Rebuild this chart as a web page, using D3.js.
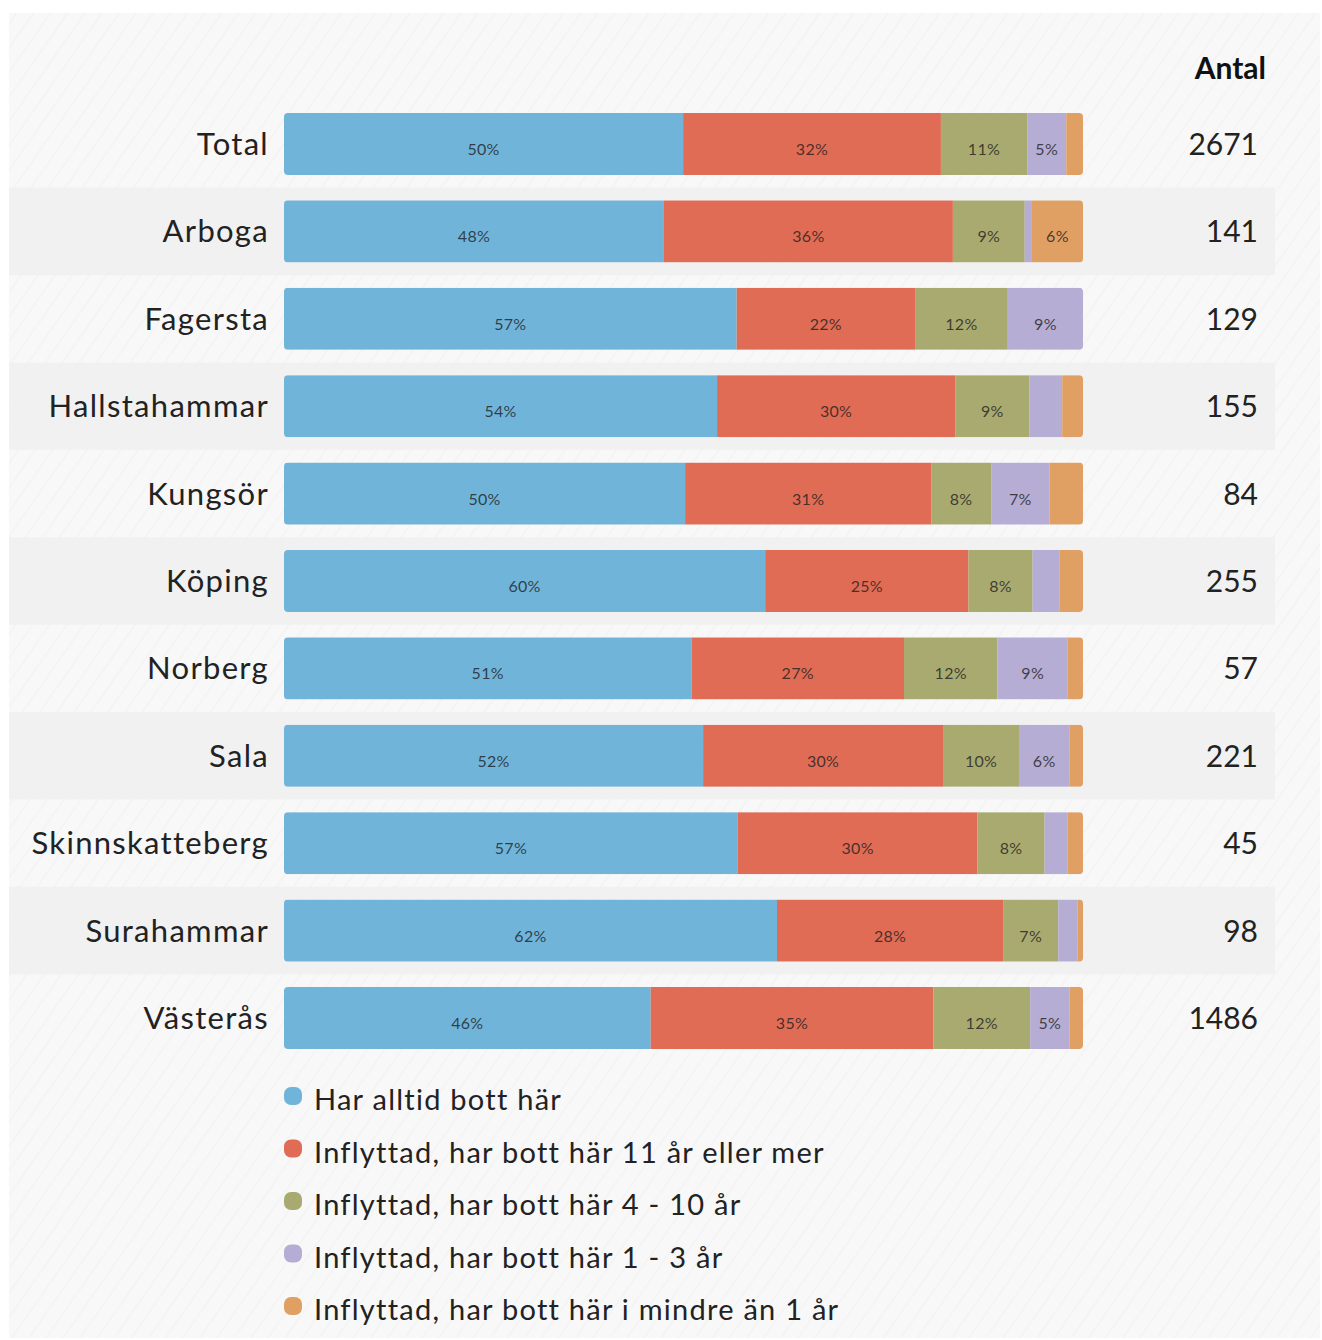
<!DOCTYPE html>
<html>
<head>
<meta charset="utf-8">
<script src="https://cdn.jsdelivr.net/npm/d3@7"></script>
<style>
  body { margin: 0; background: #fff; }
  svg { display: block; font-family: Lato, 'Open Sans', sans-serif; }
</style>
</head>
<body>
<div class="chart"></div>
<script>
// data (percent of each row)
const categories = ['Total', 'Arboga', 'Fagersta', 'Hallstahammar', 'Kungsör', 'Köping', 'Norberg', 'Sala', 'Skinnskatteberg', 'Surahammar', 'Västerås'];
const antal = [2671, 141, 129, 155, 84, 255, 57, 221, 45, 98, 1486];
const alltid   = [50.0, 47.6, 56.6, 54.2, 50.2, 60.1, 51.0, 52.4, 56.8, 61.7, 45.8];
const elvaPlus = [32.3, 36.2, 22.3, 29.8, 30.8, 25.4, 26.6, 30.0, 30.0, 28.3, 35.3];
const fyraTio  = [10.8, 9.0, 11.6, 9.3, 7.5, 8.0, 11.7, 9.5, 8.4, 6.9, 12.1];
const ettTre   = [4.9, 0.9, 9.4, 4.1, 7.3, 3.4, 8.8, 6.3, 2.9, 2.4, 4.9];
const underEtt = [2.1, 6.4, 0, 2.6, 4.2, 2.9, 1.9, 1.7, 1.9, 0.7, 1.7];

const seriesNames = ['Har alltid bott här', 'Inflyttad, har bott här 11 år eller mer', 'Inflyttad, har bott här 4 - 10 år', 'Inflyttad, har bott här 1 - 3 år', 'Inflyttad, har bott här i mindre än 1 år'];
const colors = ['#70b4da', '#e06c55', '#a9aa70', '#b5add4', '#e0a064'];
const keys = ['alltid', 'elvaPlus', 'fyraTio', 'ettTre', 'underEtt'];

const rows = categories.map((c, i) => ({
  name: c, antal: antal[i],
  alltid: alltid[i], elvaPlus: elvaPlus[i], fyraTio: fyraTio[i], ettTre: ettTre[i], underEtt: underEtt[i]
}));

const width = 1322, height = 1340;

const svg = d3.select('.chart').append('svg')
  .attr('width', width)
  .attr('height', height);

// faint diagonal texture on the panel
const defs = svg.append('defs');
const pat = defs.append('pattern')
  .attr('id', 'stripes')
  .attr('width', 14).attr('height', 14)
  .attr('patternUnits', 'userSpaceOnUse')
  .attr('patternTransform', 'rotate(-55)');
pat.append('rect').attr('width', 14).attr('height', 14).attr('fill', '#f8f8f8');
pat.append('line').attr('x1', 0).attr('x2', 14).attr('y1', 7).attr('y2', 7)
  .attr('stroke', '#f4f4f4').attr('stroke-width', 2);

svg.append('rect')
  .attr('x', 9).attr('y', 13)
  .attr('width', width - 11).attr('height', height - 15)
  .attr('fill', 'url(#stripes)');

const x = d3.scaleLinear().domain([0, 1]).range([284, 1083]);
const y = d3.scaleBand().domain(categories)
  .range([100.3, 1061.7])
  .paddingInner(0.29)
  .paddingOuter(0.145);
const step = y.step();

// alternating row bands
svg.append('g').selectAll('rect')
  .data(categories.filter((d, i) => i % 2 === 1))
  .join('rect')
  .attr('x', 9)
  .attr('y', d => y(d) + y.bandwidth() / 2 - step / 2)
  .attr('width', 1266)
  .attr('height', step)
  .attr('fill', '#efefef')
  .attr('opacity', 0.75);

// clip each bar to a rounded rectangle
defs.selectAll('clipPath')
  .data(categories)
  .join('clipPath')
  .attr('id', (d, i) => 'clip' + i)
  .append('rect')
  .attr('x', x(0))
  .attr('y', d => y(d))
  .attr('width', x(1) - x(0))
  .attr('height', y.bandwidth())
  .attr('rx', 4);

const stack = d3.stack().keys(keys).offset(d3.stackOffsetExpand);
const stacked = stack(rows);

const barRows = svg.append('g').selectAll('g')
  .data(rows)
  .join('g')
  .attr('clip-path', (d, i) => 'url(#clip' + i + ')');

barRows.selectAll('rect')
  .data((d, i) => stacked.map((s, k) => ({ k: k, v: d[keys[k]], y0: s[i][0], y1: s[i][1], name: d.name })))
  .join('rect')
  .attr('x', d => x(d.y0))
  .attr('y', d => y(d.name))
  .attr('width', d => x(d.y1) - x(d.y0))
  .attr('height', y.bandwidth())
  .attr('fill', d => colors[d.k]);

barRows.selectAll('text')
  .data((d, i) => stacked.map((s, k) => ({ k: k, v: d[keys[k]], y0: s[i][0], y1: s[i][1], name: d.name }))
    .filter(d => Math.round(d.v) >= 5))
  .join('text')
  .attr('x', d => (x(d.y0) + x(d.y1)) / 2)
  .attr('y', d => y(d.name) + y.bandwidth() / 2 + 11)
  .attr('text-anchor', 'middle')
  .attr('font-size', 16)
  .attr('letter-spacing', 0.3)
  .attr('fill', '#1e1e1e')
  .attr('fill-opacity', 0.8)
  .text(d => Math.round(d.v) + '%');

// category labels
svg.append('g').selectAll('text')
  .data(categories)
  .join('text')
  .attr('x', 269)
  .attr('y', d => y(d) + y.bandwidth() / 2 + 11)
  .attr('text-anchor', 'end')
  .attr('font-size', 31)
  .attr('letter-spacing', 1.3)
  .attr('fill', '#222')
  .text(d => d);

// Antal column
svg.append('text')
  .attr('x', 1266).attr('y', 79)
  .attr('text-anchor', 'end')
  .attr('font-size', 30)
  .attr('font-weight', 'bold')
  .attr('fill', '#111')
  .text('Antal');

svg.append('g').selectAll('text')
  .data(rows)
  .join('text')
  .attr('x', 1258)
  .attr('y', d => y(d.name) + y.bandwidth() / 2 + 11)
  .attr('text-anchor', 'end')
  .attr('font-size', 30)
  .attr('fill', '#222')
  .text(d => d.antal);

// legend
const legend = svg.append('g').selectAll('g')
  .data(seriesNames)
  .join('g')
  .attr('transform', (d, i) => 'translate(284,' + (1096 + i * 52.5) + ')');

legend.append('rect')
  .attr('x', 0).attr('y', -9)
  .attr('width', 18).attr('height', 18)
  .attr('rx', 7)
  .attr('fill', (d, i) => colors[i]);

legend.append('text')
  .attr('x', 30)
  .attr('y', 14)
  .attr('font-size', 29)
  .attr('letter-spacing', 1.25)
  .attr('fill', '#222')
  .text(d => d);
</script>
</body>
</html>
